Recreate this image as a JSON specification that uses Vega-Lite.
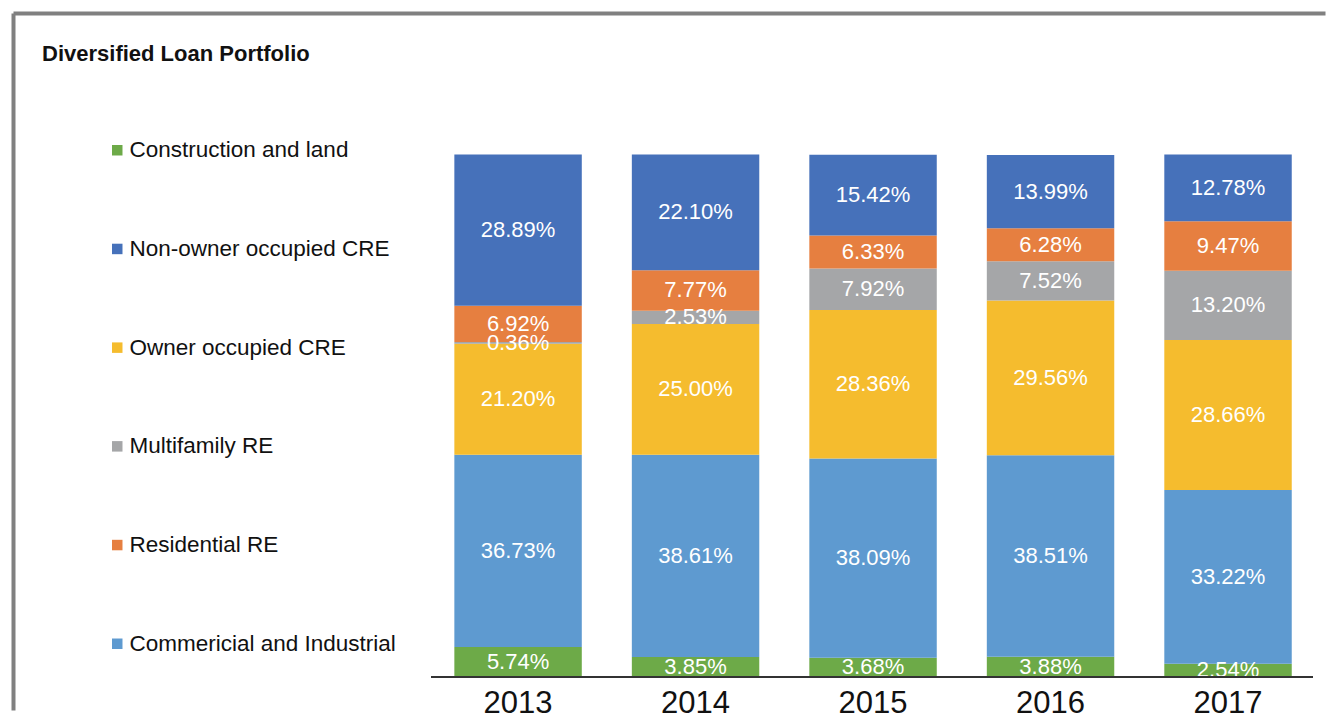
{
  "$schema": "https://vega.github.io/schema/vega-lite/v6.json",
  "width": 1312,
  "height": 697,
  "autosize": {"type": "none"},
  "padding": {"left": 13, "top": 13, "right": 10, "bottom": 9},
  "background": "white",
  "title": {
    "text": "Diversified Loan Portfolio",
    "anchor": "start",
    "frame": "group",
    "dx": 29,
    "offset": -70,
    "baseline": "alphabetic",
    "font": "Liberation Sans",
    "fontSize": 22,
    "fontWeight": "bold",
    "color": "#111111"
  },
  "config": {
    "view": {"stroke": null},
    "font": "Liberation Sans"
  },
  "data": {
    "values": [
      {"year": "2013", "category": "Construction and land", "value": 5.74, "ord": 1},
      {"year": "2013", "category": "Commericial and Industrial", "value": 36.73, "ord": 2},
      {"year": "2013", "category": "Owner occupied CRE", "value": 21.20, "ord": 3},
      {"year": "2013", "category": "Multifamily RE", "value": 0.36, "ord": 4},
      {"year": "2013", "category": "Residential RE", "value": 6.92, "ord": 5},
      {"year": "2013", "category": "Non-owner occupied CRE", "value": 28.89, "ord": 6},
      {"year": "2014", "category": "Construction and land", "value": 3.85, "ord": 1},
      {"year": "2014", "category": "Commericial and Industrial", "value": 38.61, "ord": 2},
      {"year": "2014", "category": "Owner occupied CRE", "value": 25.00, "ord": 3},
      {"year": "2014", "category": "Multifamily RE", "value": 2.53, "ord": 4},
      {"year": "2014", "category": "Residential RE", "value": 7.77, "ord": 5},
      {"year": "2014", "category": "Non-owner occupied CRE", "value": 22.10, "ord": 6},
      {"year": "2015", "category": "Construction and land", "value": 3.68, "ord": 1},
      {"year": "2015", "category": "Commericial and Industrial", "value": 38.09, "ord": 2},
      {"year": "2015", "category": "Owner occupied CRE", "value": 28.36, "ord": 3},
      {"year": "2015", "category": "Multifamily RE", "value": 7.92, "ord": 4},
      {"year": "2015", "category": "Residential RE", "value": 6.33, "ord": 5},
      {"year": "2015", "category": "Non-owner occupied CRE", "value": 15.42, "ord": 6},
      {"year": "2016", "category": "Construction and land", "value": 3.88, "ord": 1},
      {"year": "2016", "category": "Commericial and Industrial", "value": 38.51, "ord": 2},
      {"year": "2016", "category": "Owner occupied CRE", "value": 29.56, "ord": 3},
      {"year": "2016", "category": "Multifamily RE", "value": 7.52, "ord": 4},
      {"year": "2016", "category": "Residential RE", "value": 6.28, "ord": 5},
      {"year": "2016", "category": "Non-owner occupied CRE", "value": 13.99, "ord": 6},
      {"year": "2017", "category": "Construction and land", "value": 2.54, "ord": 1},
      {"year": "2017", "category": "Commericial and Industrial", "value": 33.22, "ord": 2},
      {"year": "2017", "category": "Owner occupied CRE", "value": 28.66, "ord": 3},
      {"year": "2017", "category": "Multifamily RE", "value": 13.20, "ord": 4},
      {"year": "2017", "category": "Residential RE", "value": 9.47, "ord": 5},
      {"year": "2017", "category": "Non-owner occupied CRE", "value": 12.78, "ord": 6}
    ]
  },
  "transform": [
    {"stack": "value", "groupby": ["year"], "sort": [{"field": "ord", "order": "ascending"}], "as": ["v0", "v1"]},
    {"calculate": "(datum.v0 + datum.v1) / 2", "as": "mid"},
    {"calculate": "format(datum.value, '.2f') + '%'", "as": "lbl"}
  ],
  "layer": [
    {
      "mark": {"type": "bar"},
      "encoding": {
        "x": {
          "field": "year",
          "type": "ordinal",
          "scale": {
            "domain": ["pad1", "pad2", "2013", "2014", "2015", "2016", "2017"],
            "paddingInner": 0.282,
            "paddingOuter": 0.337,
            "align": 0.722
          },
          "axis": {
            "orient": "bottom",
            "title": null,
            "domain": false,
            "ticks": false,
            "tickSize": 0,
            "labelAngle": 0,
            "labelFontSize": 31,
            "labelColor": "#111111",
            "labelPadding": -22,
            "labelFont": "Liberation Sans",
            "labelExpr": "indexof(datum.label, 'pad') == 0 ? '' : datum.label"
          }
        },
        "y": {
          "field": "v0",
          "type": "quantitative",
          "scale": {"domain": [-6.3, 126.9], "nice": false, "zero": false},
          "axis": {
            "title": null,
            "labels": false,
            "ticks": false,
            "grid": false,
            "domain": true,
            "domainColor": "#808080",
            "domainWidth": 4
          }
        },
        "y2": {"field": "v1"},
        "color": {
          "field": "category",
          "type": "nominal",
          "scale": {
            "domain": ["Construction and land", "Non-owner occupied CRE", "Owner occupied CRE", "Multifamily RE", "Residential RE", "Commericial and Industrial"],
            "range": ["#6DAA48", "#4671BA", "#F5BC2E", "#A5A6A8", "#E67F40", "#5E9AD0"]
          },
          "legend": {
            "title": null,
            "orient": "none",
            "legendX": 93,
            "legendY": 126,
            "symbolType": "square",
            "symbolSize": 110,
            "symbolStrokeWidth": 0,
            "labelFontSize": 22.5,
            "labelFont": "Liberation Sans",
            "labelColor": "#111111",
            "labelOffset": 1,
            "rowPadding": 75.7,
            "labelLimit": 400
          }
        },
        "order": {"field": "ord", "type": "quantitative"}
      }
    },
    {
      "mark": {"type": "text", "color": "white", "fontSize": 22, "font": "Liberation Sans", "baseline": "middle", "align": "center"},
      "encoding": {
        "x": {
          "field": "year",
          "type": "ordinal",
          "axis": {
            "orient": "top",
            "title": null,
            "labels": false,
            "ticks": false,
            "grid": false,
            "domain": true,
            "domainColor": "#808080",
            "domainWidth": 4
          }
        },
        "y": {"field": "mid", "type": "quantitative", "axis": null},
        "text": {"field": "lbl", "type": "nominal"}
      }
    },
    {
      "mark": {"type": "rule", "color": "#333333", "strokeWidth": 2},
      "encoding": {
        "x": {"datum": "2013", "type": "ordinal", "bandPosition": -0.18, "axis": null},
        "x2": {"datum": "2017", "bandPosition": 1.165},
        "y": {"datum": 0, "type": "quantitative", "axis": null}
      }
    }
  ],
  "resolve": {"axis": {"x": "independent", "y": "independent"}}
}
